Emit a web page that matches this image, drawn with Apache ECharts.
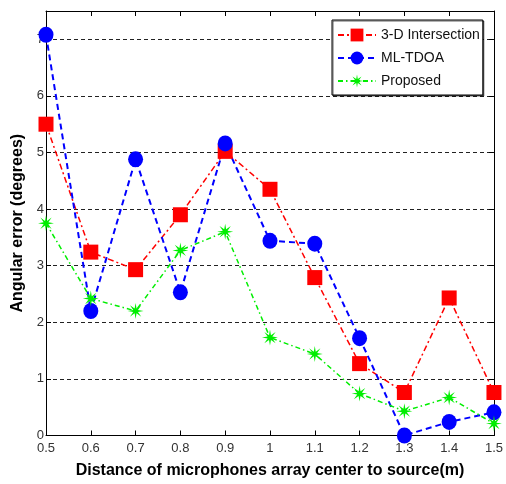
<!DOCTYPE html>
<html>
<head>
<meta charset="utf-8">
<script src="https://cdn.jsdelivr.net/npm/echarts@6/dist/echarts.min.js"></script>
<style>html,body{margin:0;padding:0;background:#fff}#c{width:506px;height:484px}</style>
</head>
<body>
<div id="c"></div>
<script>
var distances = [0.5, 0.6, 0.7, 0.8, 0.9, 1.0, 1.1, 1.2, 1.3, 1.4, 1.5];
var intersection3D = [5.5, 3.24, 2.93, 3.9, 5.02, 4.35, 2.79, 1.27, 0.76, 2.43, 0.76];
var mlTdoa = [7.08, 2.2, 4.88, 2.53, 5.16, 3.44, 3.39, 1.72, 0.0, 0.24, 0.41];
var proposed = [3.75, 2.42, 2.2, 3.27, 3.6, 1.73, 1.44, 0.74, 0.43, 0.67, 0.21];
var seriesNames = ['3-D Intersection', 'ML-TDOA', 'Proposed'];
var yTicks = [0, 1, 2, 3, 4, 5, 6, 7];

function pairs(vals) { return distances.map(function (d, i) { return [d, vals[i]]; }); }

// asterisk-like star symbol path
function starPath() {
  var pts = [], n = 8;
  for (var i = 0; i < n * 2; i++) {
    var a = Math.PI * i / n - Math.PI / 2;
    var r = (i % 2 === 0) ? 10 : 3.2;
    pts.push((10 + r * Math.cos(a)).toFixed(2) + ' ' + (10 + r * Math.sin(a)).toFixed(2));
  }
  return 'path://M' + pts.join(' L') + ' Z';
}

var font = '"Liberation Sans", Arial, sans-serif';
var chart = echarts.init(document.getElementById('c'), null, {renderer: 'canvas'});
var tickLabelStyle = {color: '#333', fontFamily: font, fontSize: 13};

chart.setOption({
  animation: false,
  backgroundColor: '#fff',
  grid: {left: 46, top: 11, right: 10, bottom: 48.5, containLabel: false},
  legend: {
    orient: 'vertical', left: 332, top: 20,
    padding: [8, 3, 7, 5],
    itemGap: 9,
    itemWidth: 38, itemHeight: 16,
    backgroundColor: '#fff',
    borderColor: '#000', borderWidth: 1,
    shadowColor: 'rgba(0,0,0,0.6)', shadowOffsetX: 1, shadowOffsetY: 1, shadowBlur: 0,
    textStyle: {fontFamily: font, fontSize: 14, color: '#111'},
    data: seriesNames
  },
  xAxis: [{
    type: 'value', min: 0.5, max: 1.5, interval: 0.1,
    name: 'Distance of microphones array center to source(m)',
    nameLocation: 'middle', nameGap: 27,
    nameTextStyle: {fontFamily: font, fontSize: 16, fontWeight: 'bold', color: '#000'},
    axisLine: {show: true, lineStyle: {color: '#000', width: 1}},
    axisTick: {show: true, inside: true, length: 5, lineStyle: {color: '#000'}},
    axisLabel: Object.assign({margin: 6, formatter: function (v) { return +v.toFixed(1) + ''; }}, tickLabelStyle),
    splitLine: {show: false}
  }, {
    type: 'value', min: 0.5, max: 1.5, interval: 0.1, position: 'top',
    axisLine: {show: true, onZero: false, lineStyle: {color: '#000', width: 1}},
    axisTick: {show: true, inside: true, length: 5, lineStyle: {color: '#000'}},
    axisLabel: {show: false}, splitLine: {show: false}
  }],
  yAxis: [{
    type: 'value', min: 0, max: 7.5, interval: 1,
    name: 'Angular error (degrees)',
    nameLocation: 'middle', nameGap: 19,
    nameTextStyle: {fontFamily: font, fontSize: 16, fontWeight: 'bold', color: '#000'},
    axisLine: {show: true, lineStyle: {color: '#000', width: 1}},
    axisTick: {show: true, inside: true, length: 5, lineStyle: {color: '#000'}},
    axisLabel: Object.assign({margin: 2, formatter: function (v) { return yTicks.indexOf(v) >= 0 ? String(v) : ''; }}, tickLabelStyle),
    splitLine: {show: true, lineStyle: {color: '#222', type: [4, 3], width: 1}}
  }, {
    type: 'value', min: 0, max: 7.5, interval: 1, position: 'right',
    axisLine: {show: true, onZero: false, lineStyle: {color: '#000', width: 1}},
    axisTick: {show: true, inside: true, length: 5, lineStyle: {color: '#000'}},
    axisLabel: {show: false}, splitLine: {show: false}
  }],
  series: [{
    name: seriesNames[0], type: 'line', data: pairs(intersection3D),
    symbol: 'rect', symbolSize: 15,
    itemStyle: {color: '#ff0000'},
    lineStyle: {color: '#ff0000', width: 1.5, type: [6, 3, 2, 3]}
  }, {
    name: seriesNames[1], type: 'line', data: pairs(mlTdoa),
    symbol: 'circle', symbolSize: [15, 16],
    itemStyle: {color: '#0000ff'},
    lineStyle: {color: '#0000ff', width: 2, type: [6, 4]}
  }, {
    name: seriesNames[2], type: 'line', data: pairs(proposed),
    symbol: starPath(), symbolSize: 16,
    itemStyle: {color: '#00ee00'},
    lineStyle: {color: '#00ee00', width: 1.5, type: [5, 3, 1.5, 3]}
  }]
});
</script>
</body>
</html>
